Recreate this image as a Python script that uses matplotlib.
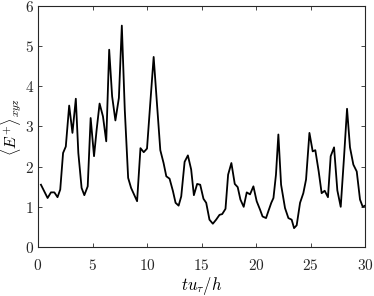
import matplotlib
matplotlib.use("Agg")
import matplotlib.pyplot as plt

plt.rcParams['mathtext.fontset'] = 'cm'
plt.rcParams['font.family'] = 'serif'
plt.rcParams['font.serif'] = ['DejaVu Serif']

t = [0.27, 0.88, 1.19, 1.5, 1.79, 2.04, 2.3, 2.55, 2.86, 3.16, 3.47, 3.7, 4.0, 4.25, 4.56,
     4.83, 5.14, 5.38, 5.65, 5.96, 6.26, 6.53, 6.8, 7.1, 7.42, 7.69, 7.96, 8.27, 8.54, 9.09,
     9.4, 9.7, 10.0, 10.3, 10.61, 10.91, 11.22, 11.52, 11.77, 12.07, 12.38, 12.62, 12.9,
     13.14, 13.45, 13.75, 14.05, 14.3, 14.6, 14.88, 15.18, 15.43, 15.73, 16.04, 16.34,
     16.65, 16.9, 17.2, 17.44, 17.74, 18.05, 18.32, 18.57, 18.87, 19.15, 19.45, 19.76,
     20.06, 20.37, 20.6, 20.92, 21.13, 21.4, 21.6, 21.83, 22.05, 22.3, 22.66, 22.97, 23.27,
     23.49, 23.73, 24.04, 24.34, 24.59, 24.9, 25.2, 25.44, 25.75, 26.02, 26.3, 26.6, 26.85,
     27.16, 27.46, 27.77, 28.07, 28.35, 28.62, 28.93, 29.24, 29.54, 29.79, 30.0]
E = [1.55, 1.22, 1.36, 1.36, 1.24, 1.43, 2.34, 2.5, 3.52, 2.84, 3.69, 2.34, 1.47, 1.29, 1.51,
     3.21, 2.26, 2.92, 3.57, 3.25, 2.63, 4.91, 3.75, 3.15, 3.71, 5.51, 3.42, 1.72, 1.47, 1.14,
     2.46, 2.36, 2.45, 3.58, 4.73, 3.58, 2.41, 2.09, 1.76, 1.70, 1.39, 1.10, 1.03,
     1.26, 2.12, 2.28, 1.93, 1.29, 1.57, 1.55, 1.20, 1.10, 0.68, 0.58, 0.68,
     0.80, 0.82, 0.95, 1.80, 2.09, 1.57, 1.49, 1.18, 1.0, 1.36, 1.31, 1.51,
     1.14, 0.93, 0.76, 0.72, 0.89, 1.10, 1.22, 1.80, 2.80, 1.55, 0.97, 0.72, 0.68,
     0.47, 0.54, 1.10, 1.34, 1.68, 2.84, 2.38, 2.41, 1.88, 1.34, 1.40, 1.24, 2.26,
     2.48, 1.41, 1.0, 2.22, 3.44, 2.48, 2.05, 1.88, 1.18, 1.0, 1.03]
xticks = [0, 5, 10, 15, 20, 25, 30]
yticks = [0, 1, 2, 3, 4, 5, 6]

fig = plt.figure(figsize=(3.74, 2.96), dpi=100)
ax = fig.add_axes([0.1016, 0.1655, 0.8744, 0.8145])
ax.plot(t, E, color='black', lw=1.3)
ax.set_xlim(0, 30)
ax.set_ylim(0, 6)
ax.set_xticks(xticks)
ax.set_yticks(yticks)
ax.set_xticklabels([f'${v}$' for v in xticks], fontsize=11)
ax.set_yticklabels([f'${v}$' for v in yticks], fontsize=11)
ax.tick_params(direction='in', top=True, right=True, length=3, width=0.6, colors='#262626', pad=3)
ax.tick_params(axis='x', pad=8)
ax.tick_params(labelcolor='#262626')
for s in ax.spines.values():
    s.set_color('#262626')
    s.set_linewidth(0.8)
ax.set_xlabel(r'$tu_\tau/h$', fontsize=12, labelpad=1)
ax.set_ylabel(r'$\langle E^{+}\rangle_{xyz}$', fontsize=11.5)
ax.yaxis.set_label_coords(-0.042, 0.5)
fig.savefig('out.png', dpi=100)
